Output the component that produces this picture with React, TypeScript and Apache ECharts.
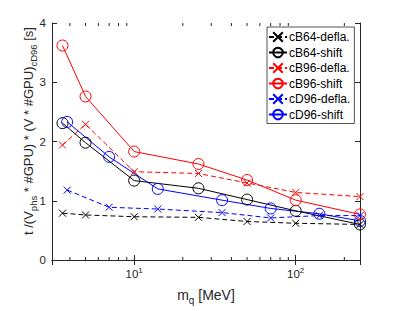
import React, { useEffect, useRef } from "react";
import * as echarts from "echarts";

const seriesNames = ["cB64-defla.", "cB64-shift", "cB96-defla.", "cB96-shift", "cD96-defla.", "cD96-shift"];
const xB = [3.6, 5, 10, 25, 50, 100, 250];
const xD = [3.85, 7, 14, 35, 70, 140, 250];
const cB64Defla = [0.79, 0.76, 0.73, 0.72, 0.65, 0.62, 0.6];
const cB64Shift = [2.31, 1.98, 1.34, 1.21, 1.02, 0.83, 0.6];
const cB96Defla = [1.94, 2.29, 1.49, 1.46, 1.3, 1.14, 1.07];
const cB96Shift = [3.62, 2.76, 1.83, 1.62, 1.35, 1.01, 0.77];
const cD96Defla = [1.18, 0.89, 0.86, 0.8, 0.71, 0.75, 0.75];
const cD96Shift = [2.33, 1.74, 1.2, 1.01, 0.87, 0.78, 0.66];
const minorTicks = [4, 5, 6, 7, 8, 9, 20, 30, 40, 50, 60, 70, 80, 90, 200];
const xMin = 3.1;
const xMax = 250;
const yMin = 0;
const yMax = 4;

const FONT = "'Liberation Sans', Arial, Helvetica, sans-serif";
const AX = "#262626";
const X_SYMBOL = "path://M0,0L10,10M10,0L0,10";

function pairs(xs: number[], ys: number[]) {
  return xs.map((x, i) => [x, ys[i]]);
}

function mkSeries(name: string, xs: number[], ys: number[], color: string, dashed: boolean) {
  const isX = dashed;
  return {
    name,
    type: "line",
    data: pairs(xs, ys),
    symbol: isX ? X_SYMBOL : "circle",
    symbolSize: isX ? 7 : 11,
    symbolKeepAspect: true,
    showAllSymbol: true,
    lineStyle: { color, width: 1, type: dashed ? [5, 3] : "solid" },
    itemStyle: { color: "rgba(0,0,0,0)", borderColor: color, borderWidth: 1 },
    emphasis: { disabled: true },
    z: 3,
  };
}

export default function App() {
  const ref = useRef<HTMLDivElement>(null);
  useEffect(() => {
    if (!ref.current) return;
    const chart = echarts.init(ref.current, null, { renderer: "svg" });
    const axisCommon = {
      type: "log",
      logBase: 10,
      min: xMin,
      max: xMax,
      axisLine: { show: true, lineStyle: { color: AX, width: 1 } },
      axisTick: { show: true, inside: true, length: 5, lineStyle: { color: AX } },
      splitLine: { show: false },
      minorTick: { show: false },
    };
    const yCommon = {
      type: "value",
      min: yMin,
      max: yMax,
      interval: 1,
      axisLine: { show: true, lineStyle: { color: AX, width: 1 } },
      axisTick: { show: true, inside: true, length: 5, lineStyle: { color: AX } },
      splitLine: { show: false },
    };
    chart.setOption({
      animation: false,
      backgroundColor: "#ffffff",
      grid: { left: 52, right: 38, top: 23, bottom: 51, containLabel: false },
      xAxis: [
        {
          ...axisCommon,
          position: "bottom",
          axisLabel: {
            show: true,
            showMinLabel: false,
            showMaxLabel: false,
            margin: 6,
            color: AX,
            fontFamily: FONT,
            formatter: (v: number) => {
              const e = Math.log10(v);
              if (Math.abs(e - Math.round(e)) > 1e-6) return "";
              return "{b|10}{p|" + Math.round(e) + "}";
            },
            rich: {
              b: { fontSize: 11.5, lineHeight: 16, fontFamily: FONT, color: AX },
              p: { fontSize: 8, verticalAlign: "top", fontFamily: FONT, color: AX },
            },
          },
        },
        { ...axisCommon, position: "top", axisLabel: { show: false } },
      ],
      yAxis: [
        {
          ...yCommon,
          position: "left",
          axisLabel: { show: true, margin: 6, color: AX, fontSize: 11.5, fontFamily: FONT },
        },
        { ...yCommon, position: "right", axisLabel: { show: false } },
      ],
      legend: {
        data: seriesNames,
        orient: "vertical",
        left: 267,
        top: 27,
        padding: [4, 4, 3, 1],
        itemWidth: 18,
        itemHeight: 12,
        itemGap: 3.5,
        backgroundColor: "#ffffff",
        borderColor: AX,
        borderWidth: 0.8,
        borderRadius: 0,
        selectedMode: false,
        textStyle: { fontSize: 12, lineHeight: 12, fontFamily: FONT, color: "#000", padding: [0, 0, 0, -3] },
      },
      graphic: [
        {
          type: "text",
          x: 28,
          y: 131,
          rotation: Math.PI / 2,
          style: {
            text: "{a|t /(V}{s|phs}{a| * #GPU) * (V * #GPU)}{s|cD96}{a| [s]}",
            align: "center",
            verticalAlign: "middle",
            fill: AX,
            rich: {
              a: { fontSize: 13, lineHeight: 20, fontFamily: FONT, fill: AX },
              s: { fontSize: 9.5, verticalAlign: "bottom", fontFamily: FONT, fill: AX },
            },
          },
        },
        {
          type: "text",
          x: 206,
          y: 295,
          style: {
            text: "{a|m}{s|q}{a| [MeV]}",
            align: "center",
            verticalAlign: "middle",
            fill: AX,
            rich: {
              a: { fontSize: 14, lineHeight: 20, fontFamily: FONT, fill: AX },
              s: { fontSize: 10, verticalAlign: "bottom", fontFamily: FONT, fill: AX },
            },
          },
        },
      ],
      series: [
        mkSeries(seriesNames[4], xD, cD96Defla, "#0000ff", true),
        mkSeries(seriesNames[5], xD, cD96Shift, "#0000ff", false),
        mkSeries(seriesNames[0], xB, cB64Defla, "#000000", true),
        mkSeries(seriesNames[1], xB, cB64Shift, "#000000", false),
        mkSeries(seriesNames[2], xB, cB96Defla, "#ff0000", true),
        mkSeries(seriesNames[3], xB, cB96Shift, "#ff0000", false),
        {
          name: "minorTicks",
          type: "custom",
          silent: true,
          data: minorTicks.map((v) => [v, yMin]),
          renderItem: (_p: any, api: any) => {
            const v = api.value(0);
            const pb = api.coord([v, yMin]);
            const pt = api.coord([v, yMax]);
            return {
              type: "group",
              children: [
                { type: "line", shape: { x1: pb[0], y1: pb[1], x2: pb[0], y2: pb[1] - 3 }, style: { stroke: AX, lineWidth: 1 } },
                { type: "line", shape: { x1: pt[0], y1: pt[1], x2: pt[0], y2: pt[1] + 3 }, style: { stroke: AX, lineWidth: 1 } },
              ],
            };
          },
          z: 1,
        },
      ],
    });
    return () => chart.dispose();
  }, []);
  return <div ref={ref} style={{ width: 398, height: 311, position: "absolute", left: 0, top: 0 }} />;
}
